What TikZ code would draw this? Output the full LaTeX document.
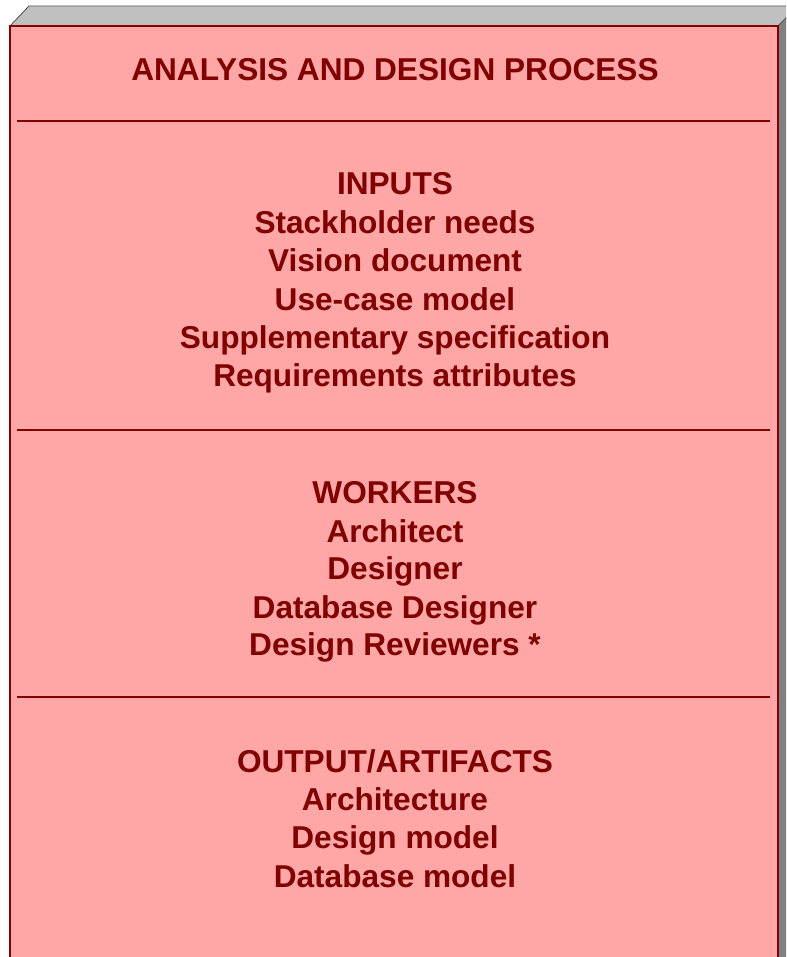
\documentclass[tikz,border=0pt]{standalone}
\usepackage{fontspec}
\setmainfont{Liberation Sans}
\definecolor{txtred}{HTML}{800000}
\definecolor{facepink}{HTML}{FFA6A6}
\definecolor{topgray}{HTML}{C0C0C0}
\definecolor{sidegray}{HTML}{808080}
\definecolor{edgegray}{HTML}{5A5A5A}
\tikzset{
  lbl/.style={anchor=base, inner sep=0pt, text=txtred, font=\fontsize{31.6}{38}\selectfont\bfseries},
  sep/.style={draw=txtred, line width=1.8pt},
}
\begin{document}
\begin{tikzpicture}[x=1pt,y=-1pt]
\useasboundingbox (0,0) rectangle (786,957);
\begin{scope}
\clip (0,0) rectangle (786,957);
% top face
\path[fill=topgray, draw=edgegray, line width=0.9pt] (10,26) -- (29,6) -- (798,6) -- (778,26) -- cycle;
% side face
\path[fill=sidegray, draw=edgegray, line width=0.9pt] (778,26) -- (798,6) -- (798,980) -- (778,980) -- cycle;
% front face
\path[fill=facepink, draw=txtred, line width=2pt] (10,26) rectangle (778,990);
\end{scope}

\node[lbl] (title) at (395,81) {ANALYSIS AND DESIGN PROCESS};
\coordinate (s1a) at (17,121); \coordinate (s1b) at (770,121);
\draw[sep] (s1a) -- (s1b);

\node[lbl] (inputs) at (395,195) {INPUTS};
\node[lbl] (in1) at (395,234) {Stackholder needs};
\node[lbl] (in2) at (395,272) {Vision document};
\node[lbl] (in3) at (395,310) {Use-case model};
\node[lbl] (in4) at (395,348) {Supplementary specification};
\node[lbl] (in5) at (395,386) {Requirements attributes};

\coordinate (s2a) at (17,430); \coordinate (s2b) at (770,430);
\draw[sep] (s2a) -- (s2b);

\node[lbl] (workers) at (395,503) {WORKERS};
\node[lbl] (w1) at (395,542) {Architect};
\node[lbl] (w2) at (395,579) {Designer};
\node[lbl] (w3) at (395,618) {Database Designer};
\node[lbl] (w4) at (395,655) {Design Reviewers *};

\coordinate (s3a) at (17,697); \coordinate (s3b) at (770,697);
\draw[sep] (s3a) -- (s3b);

\node[lbl] (outputs) at (395,772) {OUTPUT/ARTIFACTS};
\node[lbl] (o1) at (395,810) {Architecture};
\node[lbl] (o2) at (395,848) {Design model};
\node[lbl] (o3) at (395,887) {Database model};
\end{tikzpicture}
\end{document}
